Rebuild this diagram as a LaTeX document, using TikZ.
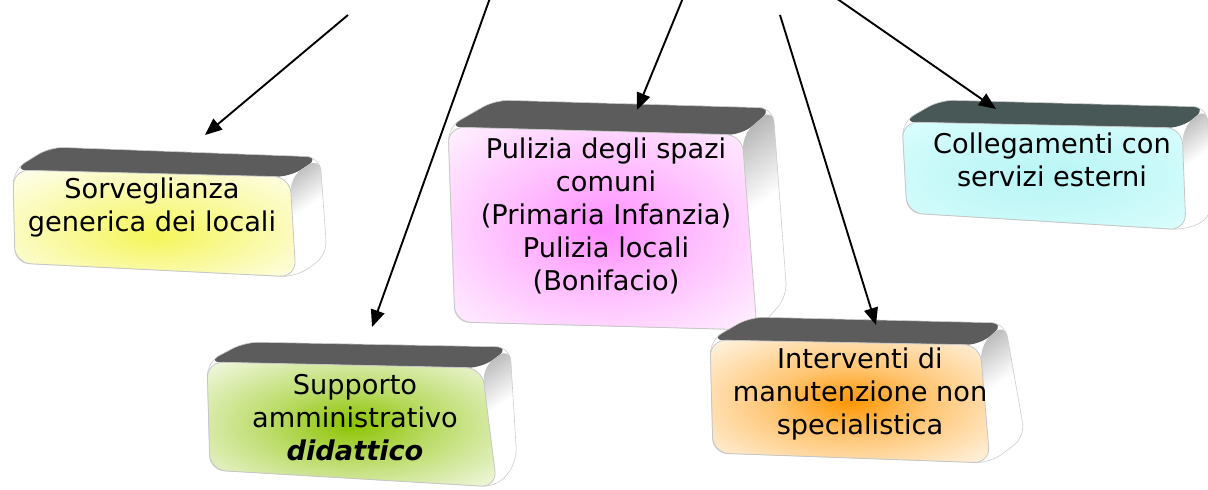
\documentclass[tikz,border=0pt]{standalone}
\usepackage{fontspec}
\setmainfont{DejaVu Sans}
\usetikzlibrary{arrows.meta}
\definecolor{cYel}{RGB}{245,245,90}
\definecolor{cGrn}{RGB}{140,195,0}
\definecolor{cPnk}{RGB}{255,140,255}
\definecolor{cOrg}{RGB}{255,150,0}
\definecolor{cCyn}{RGB}{185,245,245}
\definecolor{cCynE}{RGB}{225,255,255}
\definecolor{topGray}{RGB}{92,92,92}
\definecolor{topSlate}{RGB}{72,88,86}
\pgfdeclareradialshading{glowY}{\pgfpoint{0bp}{-6bp}}{color(0bp)=(cYel); color(12bp)=(cYel!70!white); color(40bp)=(white); color(50bp)=(white)}
\pgfdeclareradialshading{glowG}{\pgfpoint{0bp}{0bp}}{color(0bp)=(cGrn); color(14bp)=(cGrn!60!white); color(40bp)=(white); color(50bp)=(white)}
\pgfdeclareradialshading{glowP}{\pgfpoint{0bp}{0bp}}{color(0bp)=(cPnk); color(14bp)=(cPnk!60!white); color(40bp)=(white); color(50bp)=(white)}
\pgfdeclareradialshading{glowO}{\pgfpoint{0bp}{0bp}}{color(0bp)=(cOrg); color(14bp)=(cOrg!55!white); color(40bp)=(white); color(50bp)=(white)}
\pgfdeclareradialshading{glowC}{\pgfpoint{0bp}{0bp}}{color(0bp)=(cCyn); color(20bp)=(cCyn!60!cCynE); color(40bp)=(cCynE); color(50bp)=(cCynE)}
\pgfdeclareverticalshading{sidefade}{100bp}{color(0bp)=(white); color(55bp)=(white); color(80bp)=(black!30); color(100bp)=(black!65)}
% #1 FTL #2 FTR #3 FBR #4 FBL #5 BTL #6 BTR #7 BBR #8 shading #9 top colour
\newcommand{\prismbox}[9]{%
  \fill[#9, rounded corners=7pt] #1 -- #5 -- #6 -- #2 -- cycle;
  \shade[shading=sidefade, shading angle=35, rounded corners=7pt] #2 -- #6 -- #7 -- #3 -- cycle;
  \draw[gray!40, line width=0.3pt, rounded corners=7pt] #4 -- #1 -- #5 -- #6 -- #7 -- #3 -- cycle;
  \shadedraw[shading=#8, draw=gray!45, line width=0.4pt, rounded corners=8pt] #1 -- #2 -- #3 -- #4 -- cycle;
}
\tikzset{
  lbl/.style={align=center, font=\fontsize{13.6pt}{16.5pt}\selectfont, inner sep=0pt},
  arr/.style={line width=0.95pt, -{Triangle[length=8.5pt,width=7pt]}}
}
\begin{document}
\begin{tikzpicture}[x=0.5pt,y=-0.5pt]
\useasboundingbox (0,0) rectangle (1208,490);
% boxes
\prismbox{(13,170)}{(290,177)}{(296,277)}{(15,263)}{(50,147)}{(320,157)}{(327,255)}{glowY}{topGray}
\prismbox{(207,362)}{(482,368)}{(497,487)}{(210,470)}{(245,342)}{(510,347)}{(517,462)}{glowG}{topGray}
\prismbox{(448,127)}{(742,135)}{(757,330)}{(455,322)}{(495,100)}{(773,108)}{(787,297)}{glowP}{topGray}
\prismbox{(710,340)}{(980,345)}{(990,463)}{(713,453)}{(750,317)}{(1005,323)}{(1025,437)}{glowO}{topGray}
\prismbox{(902,122)}{(1182,128)}{(1186,230)}{(907,213)}{(940,100)}{(1207,107)}{(1212,217)}{glowC}{topSlate}
% labels
\node[lbl] (sorv) at (152,208) {Sorveglianza\\generica dei locali};
\node[lbl] (supp) at (355,418) {Supporto\\amministrativo\\{\bfseries\itshape didattico}};
\node[lbl] (puli) at (606,216) {Pulizia degli spazi\\comuni\\(Primaria Infanzia)\\Pulizia locali\\(Bonifacio)};
\node[lbl] (inte) at (860,394) {Interventi di\\manutenzione non\\specialistica};
\node[lbl] (coll) at (1052,160) {Collegamenti con\\servizi esterni};
% arrow ends
\coordinate (s1) at (348,15);
\coordinate (t1) at (205,135);
\coordinate (s2) at (490,-2);
\coordinate (t2) at (372,327);
\coordinate (s3) at (683,-2);
\coordinate (t3) at (637,110);
\coordinate (s4) at (780,15);
\coordinate (t4) at (876,325);
\coordinate (s5) at (836,-2);
\coordinate (t5) at (996,109);
\draw[arr] (s1) -- (t1);
\draw[arr] (s2) -- (t2);
\draw[arr] (s3) -- (t3);
\draw[arr] (s4) -- (t4);
\draw[arr] (s5) -- (t5);
\end{tikzpicture}
\end{document}
